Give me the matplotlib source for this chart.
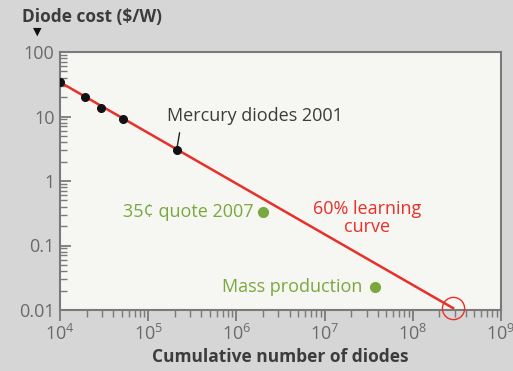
import matplotlib
matplotlib.use("Agg")
import matplotlib.pyplot as plt
from matplotlib.ticker import LogLocator, FixedFormatter, FixedLocator

plt.rcParams['font.family'] = ['Open Sans', 'DejaVu Sans']
plt.rcParams['mathtext.fontset'] = 'custom'
plt.rcParams['mathtext.rm'] = 'Open Sans'
plt.rcParams['mathtext.default'] = 'regular'

# measured diode costs
mercury_x = [1.0e4, 1.92e4, 2.9e4, 5.2e4, 2.1e5]
mercury_y = [34, 20, 13.5, 9.1, 3.0]

# quoted / projected points
quote_x, quote_y = 2.0e6, 0.33
mass_x, mass_y = 3.7e7, 0.023

# 60% learning curve end points
curve_x = [1.0e4, 2.86e8]
curve_y = [34, 0.0107]

x_ticks = [1e4, 1e5, 1e6, 1e7, 1e8, 1e9]
x_labels = ['$10^{4}$', '$10^{5}$', '$10^{6}$', '$10^{7}$', '$10^{8}$', '$10^{9}$']
y_ticks = [0.01, 0.1, 1, 10, 100]
y_labels = ['0.01', '0.1', '1', '10', '100']

RED = '#e8302a'
GREEN = '#7aa83e'
TEXT = '#3c3c3c'
TICK = '#6a6a6a'
FRAME = '#7a7a7a'
FS = 13

fig = plt.figure(figsize=(5.13, 3.71), dpi=100, facecolor='#d6d6d6')
ax = fig.add_axes([60 / 513, 61 / 371, 441 / 513, 258 / 371])
ax.set_facecolor('#f6f6f2')
ax.set_xscale('log')
ax.set_yscale('log')
ax.set_xlim(1e4, 1e9)
ax.set_ylim(0.01, 100)

for side in ax.spines.values():
    side.set_color(FRAME)
    side.set_linewidth(1.5)

ax.xaxis.set_major_locator(FixedLocator(x_ticks))
ax.xaxis.set_major_formatter(FixedFormatter(x_labels))
ax.xaxis.set_minor_locator(LogLocator(base=10, subs=range(2, 10)))
ax.yaxis.set_major_locator(FixedLocator(y_ticks))
ax.yaxis.set_major_formatter(FixedFormatter(y_labels))
ax.yaxis.set_minor_locator(LogLocator(base=10, subs=range(2, 10)))
ax.xaxis.set_minor_formatter(plt.NullFormatter())
ax.yaxis.set_minor_formatter(plt.NullFormatter())

ax.tick_params(axis='x', which='major', direction='out', length=8, width=1.3,
               color=FRAME, labelcolor=TICK, labelsize=FS, pad=2)
ax.tick_params(axis='x', which='minor', direction='out', length=5, width=1.0, color=FRAME)
ax.tick_params(axis='y', which='major', direction='in', length=8, width=1.3,
               color=FRAME, labelcolor=TICK, labelsize=FS, pad=4)
ax.tick_params(axis='y', which='minor', direction='in', length=5, width=1.0, color=FRAME)

# learning curve and its end marker
ax.plot(curve_x, curve_y, color=RED, linewidth=1.8, zorder=3)
ax.plot(curve_x[-1], curve_y[-1], marker='o', markersize=16, markerfacecolor='none',
        markeredgecolor=RED, markeredgewidth=1.0, clip_on=False, zorder=4)

ax.plot(mercury_x, mercury_y, 'o', color='#111111', markersize=5.5, zorder=5)
ax.plot([quote_x, mass_x], [quote_y, mass_y], 'o', color=GREEN, markersize=7, zorder=5)

ax.annotate('Mercury diodes 2001', xy=(mercury_x[-1], mercury_y[-1]),
            xytext=(-7, 25), textcoords='offset points', ha='left', va='center',
            color=TEXT, fontsize=FS,
            arrowprops=dict(arrowstyle='-', color='#222222', lw=1.0,
                            relpos=(0.08, 0), shrinkA=4, shrinkB=2))
ax.annotate('35\u00a2 quote 2007', xy=(quote_x, quote_y), xytext=(-7, 0),
            textcoords='offset points', ha='right', va='center',
            color=GREEN, fontsize=FS)
ax.annotate('Mass production', xy=(mass_x, mass_y), xytext=(-9, 0),
            textcoords='offset points', ha='right', va='center',
            color=GREEN, fontsize=FS)
ax.text(0.696, 0.355, '60% learning\ncurve', transform=ax.transAxes,
        ha='center', va='center', color=RED, fontsize=FS, linespacing=1.0)

ax.set_xlabel('Cumulative number of diodes', fontsize=12.5, fontweight='bold',
              color=TEXT, labelpad=3)
fig.text(22 / 513, 1 - 17 / 371, 'Diode cost ($/W)', ha='left', va='center',
         fontsize=12.5, fontweight='bold', color=TEXT)
fig.text(37 / 513, 1 - 32 / 371, '\u25bc', ha='center', va='center',
         fontsize=8, color='#111111', family=['DejaVu Sans'])

fig.savefig('out.png', dpi=100, facecolor=fig.get_facecolor())
